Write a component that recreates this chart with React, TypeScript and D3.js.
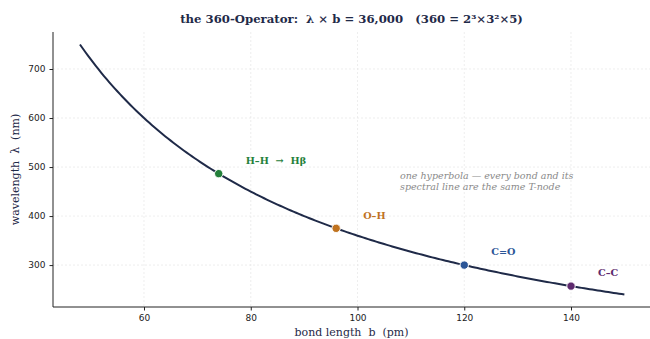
import { useRef, useEffect } from 'react';
import * as d3 from 'd3';

// λ × b = K
const K = 36000;
const curveStart = 48;
const curveEnd = 150;

const bondNames = ['H–H  →  Hβ', 'O–H', 'C=O', 'C–C'];
const bondLengths = [74, 96, 120, 140];
const bondColors = ['#23803a', '#c0731f', '#2b5597', '#5e2a6e'];

const xTicks = [60, 80, 100, 120, 140];
const yTicks = [300, 400, 500, 600, 700];

const navy = '#1f2a48';

export default function App() {
  const svgRef = useRef<SVGSVGElement>(null);

  useEffect(() => {
    if (!svgRef.current) return;
    const svg = d3.select(svgRef.current);
    svg.selectAll('*').remove();

    const width = 650;
    const height = 339;
    const margin = { top: 32, right: 0, bottom: 32, left: 53 };
    const innerWidth = width - margin.left - margin.right;
    const innerHeight = height - margin.top - margin.bottom;

    svg.attr('width', width).attr('height', height);

    const x = d3.scaleLinear().domain([42.95, 154.8]).range([0, innerWidth]);
    const y = d3.scaleLinear().domain([214.5, 775.5]).range([innerHeight, 0]);

    const g = svg.append('g').attr('transform', `translate(${margin.left},${margin.top})`);

    // grid
    g.append('g')
      .selectAll('line')
      .data(xTicks)
      .join('line')
      .attr('x1', (d) => x(d))
      .attr('x2', (d) => x(d))
      .attr('y1', 0)
      .attr('y2', innerHeight)
      .attr('stroke', '#e6e6e6')
      .attr('stroke-width', 0.7)
      .attr('stroke-dasharray', '2,2');
    g.append('g')
      .selectAll('line')
      .data(yTicks)
      .join('line')
      .attr('x1', 0)
      .attr('x2', innerWidth)
      .attr('y1', (d) => y(d))
      .attr('y2', (d) => y(d))
      .attr('stroke', '#e6e6e6')
      .attr('stroke-width', 0.7)
      .attr('stroke-dasharray', '2,2');

    // axes
    const xAxis = g
      .append('g')
      .attr('transform', `translate(0,${innerHeight})`)
      .call(d3.axisBottom(x).tickValues(xTicks).tickSize(3.5).tickPadding(4).tickSizeOuter(0));
    const yAxis = g.append('g').call(d3.axisLeft(y).tickValues(yTicks).tickSize(3.5).tickPadding(4).tickSizeOuter(0));
    [xAxis, yAxis].forEach((a) => {
      a.select('.domain').attr('stroke', '#222').attr('stroke-width', 1);
      a.selectAll('line').attr('stroke', '#222');
      a.selectAll('text').attr('font-family', 'DejaVu Sans').attr('font-size', 9).attr('fill', '#222');
    });
    xAxis.select('.domain').attr('d', `M0,0H${innerWidth}`);
    yAxis.select('.domain').attr('d', `M0,${innerHeight}V0`);

    // hyperbola
    const pts = d3.range(curveStart, curveEnd + 0.01, 0.5).map((b) => ({ b, l: K / b }));
    const line = d3
      .line<{ b: number; l: number }>()
      .x((d) => x(d.b))
      .y((d) => y(d.l));
    g.append('path')
      .datum(pts)
      .attr('fill', 'none')
      .attr('stroke', navy)
      .attr('stroke-width', 2)
      .attr('d', line);

    // bonds
    bondLengths.forEach((b, i) => {
      const cx = x(b);
      const cy = y(K / b);
      g.append('circle')
        .attr('cx', cx)
        .attr('cy', cy)
        .attr('r', 4.2)
        .attr('fill', bondColors[i])
        .attr('stroke', 'white')
        .attr('stroke-width', 1);
      g.append('text')
        .attr('x', cx + 27)
        .attr('y', cy - 13)
        .attr('dy', '0.35em')
        .attr('font-family', 'DejaVu Serif')
        .attr('font-weight', 'bold')
        .attr('font-size', 9.7)
        .attr('fill', bondColors[i])
        .style('white-space', 'pre')
        .text(bondNames[i]);
    });

    // note
    const note = g
      .append('text')
      .attr('font-family', 'DejaVu Serif')
      .attr('font-style', 'italic')
      .attr('font-size', 9.5)
      .attr('fill', '#8a8a8a');
    note.append('tspan').attr('x', 347).attr('y', 147).text('one hyperbola — every bond and its');
    note.append('tspan').attr('x', 347).attr('y', 158).text('spectral line are the same T-node');

    // labels
    svg.append('text')
      .attr('x', margin.left + innerWidth / 2)
      .attr('y', 23)
      .attr('text-anchor', 'middle')
      .attr('font-family', 'DejaVu Serif')
      .attr('font-weight', 'bold')
      .attr('font-size', 11.7)
      .attr('fill', navy)
      .style('white-space', 'pre')
      .text('the 360-Operator:  λ × b = 36,000   (360 = 2³×3²×5)');
    svg.append('text')
      .attr('x', margin.left + innerWidth / 2)
      .attr('y', 336)
      .attr('text-anchor', 'middle')
      .attr('font-family', 'DejaVu Serif')
      .attr('font-size', 11)
      .attr('fill', navy)
      .style('white-space', 'pre')
      .text('bond length  b  (pm)');
    svg.append('text')
      .attr('transform', `translate(19,${margin.top + innerHeight / 2}) rotate(-90)`)
      .attr('text-anchor', 'middle')
      .attr('font-family', 'DejaVu Serif')
      .attr('font-size', 11)
      .attr('fill', navy)
      .style('white-space', 'pre')
      .text('wavelength  λ  (nm)');
  }, []);

  return (
    <div style={{ position: 'absolute', left: 0, top: 0 }}>
      <svg ref={svgRef} style={{ display: 'block' }} />
    </div>
  );
}
